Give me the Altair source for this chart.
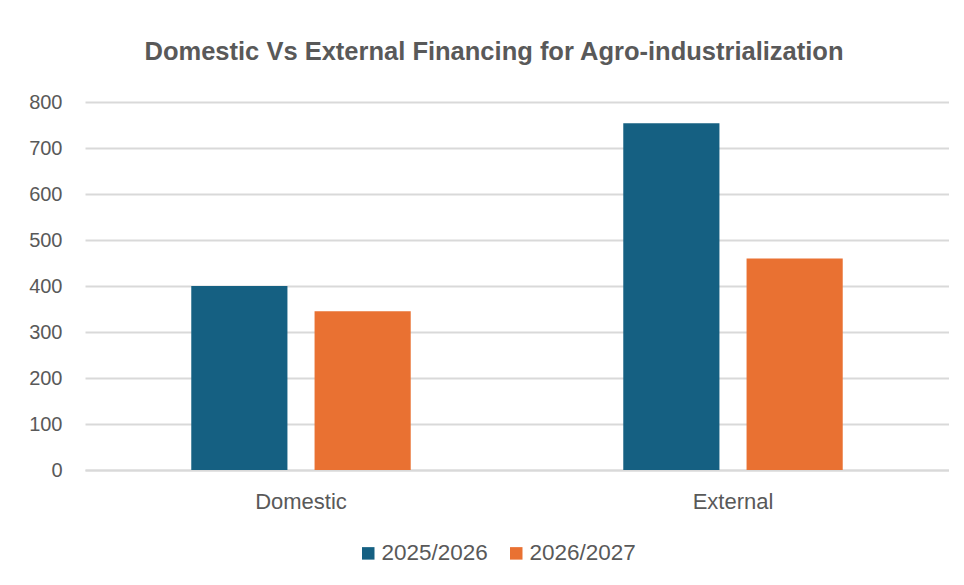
import altair as alt
import pandas as pd

categories = ["Domestic", "Domestic", "External", "External"]
periods = ["2025/2026", "2026/2027", "2025/2026", "2026/2027"]
values = [400, 345, 754, 460]

series_names = ["2025/2026", "2026/2027"]
series_colors = ["#156082", "#E97132"]
y_ticks = [0, 100, 200, 300, 400, 500, 600, 700, 800]

df = pd.DataFrame({"category": categories, "period": periods, "value": values})

GRAY = "#595959"
GRID = "#d9d9d9"

bars = alt.Chart(df).mark_bar(strokeWidth=0).encode(
    x=alt.X(
        "category:N",
        sort=["Domestic", "External"],
        scale=alt.Scale(paddingInner=0.492, paddingOuter=0.246),
        axis=alt.Axis(
            title=None,
            labelAngle=0,
            ticks=False,
            domainColor=GRID,
            domainWidth=2,
            labelFont="Liberation Sans",
            labelFontSize=22,
            labelColor=GRAY,
            labelPadding=21,
        ),
    ),
    xOffset=alt.XOffset(
        "period:N",
        sort=series_names,
        scale=alt.Scale(paddingInner=0.22, paddingOuter=0),
    ),
    y=alt.Y(
        "value:Q",
        scale=alt.Scale(domain=[0, 800], nice=False),
        axis=alt.Axis(
            title=None,
            values=y_ticks,
            ticks=False,
            domain=False,
            gridColor=GRID,
            gridWidth=2,
            labelFont="Liberation Sans",
            labelFontSize=20,
            labelColor=GRAY,
            labelPadding=23,
        ),
    ),
    color=alt.Color(
        "period:N",
        sort=series_names,
        scale=alt.Scale(domain=series_names, range=series_colors),
        legend=alt.Legend(
            title=None,
            orient="none",
            direction="horizontal",
            legendX=272,
            legendY=440,
            symbolType="square",
            symbolSize=156,
            symbolStrokeWidth=0,
            labelFont="Liberation Sans",
            labelFontSize=22.5,
            labelColor=GRAY,
            labelOffset=2,
            columnPadding=17,
        ),
    ),
)

chart = bars.properties(
    width=864,
    height=368,
    autosize=alt.AutoSizeParams(type="none"),
    padding={"left": 77, "top": 94, "right": 0, "bottom": 100},
    background="white",
    title=alt.Title(
        "Domestic Vs External Financing for Agro-industrialization",
        font="Liberation Sans",
        fontSize=25.5,
        fontWeight="bold",
        color=GRAY,
        anchor="middle",
        dx=-23,
        offset=27,
    ),
).configure_view(stroke=None)

chart.save("out.html", embed_options={"renderer": "svg", "actions": False})
